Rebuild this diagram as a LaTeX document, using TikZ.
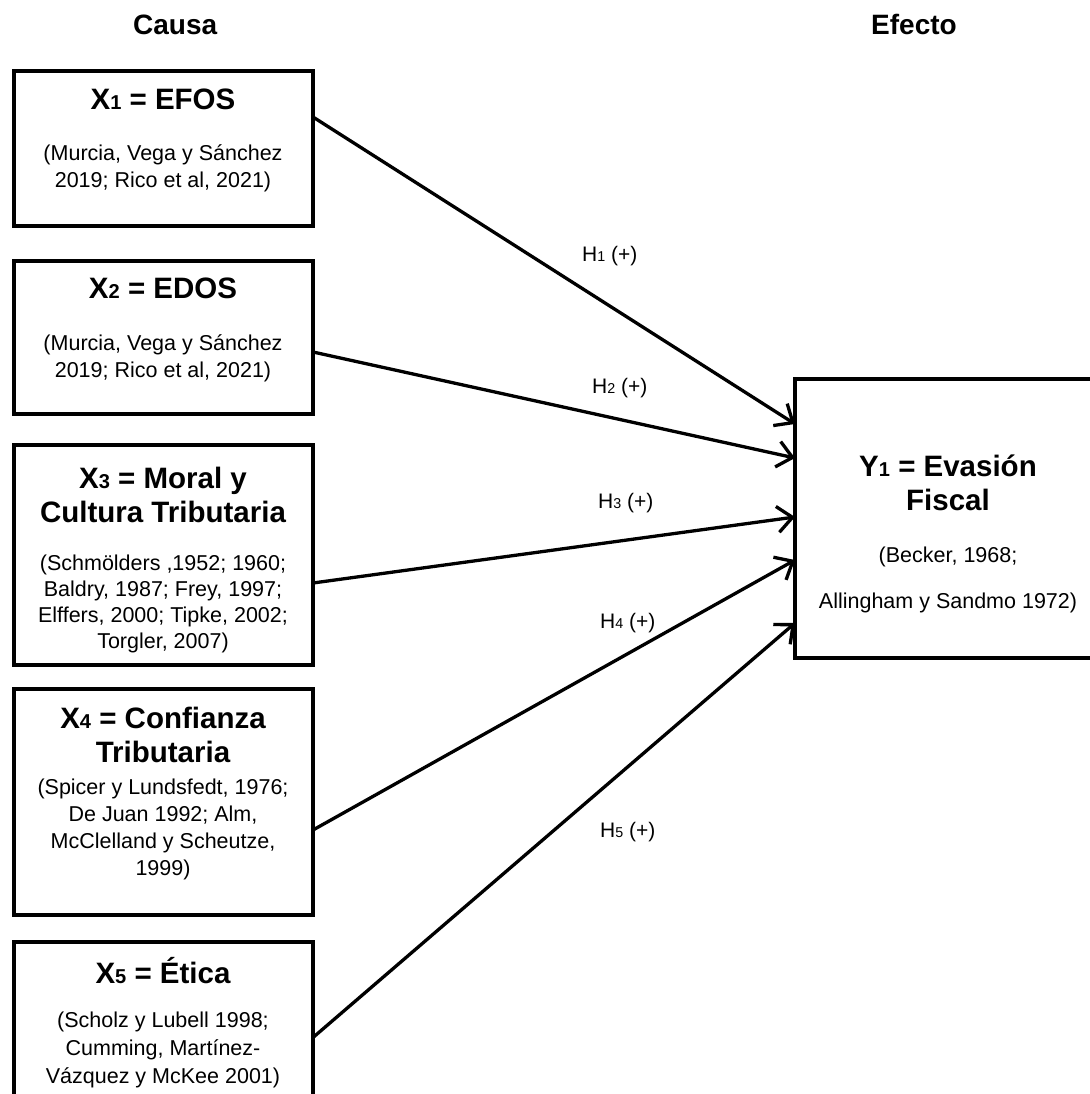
\documentclass[tikz,border=0pt]{standalone}
\usepackage{fontspec}
\setmainfont{Liberation Sans}
\usepackage{graphicx}
\usetikzlibrary{arrows.meta}
\newcommand\sbd[1]{\scalebox{0.68}{#1}}
\tikzset{
  box/.style={draw, line width=4pt, inner sep=0pt, outer sep=0pt},
  ttl/.style={font=\bfseries\fontsize{29.5}{34}\selectfont, align=center, inner sep=0pt, anchor=base},
  cite/.style={font=\fontsize{21.5}{#1}\selectfont, align=center, inner sep=0pt, anchor=base},
  cite/.default=26,
  hdr/.style={font=\bfseries\fontsize{28}{32}\selectfont, inner sep=0pt},
  hyp/.style={font=\fontsize{21}{25}\selectfont, inner sep=0pt, anchor=base west},
  arr/.style={line width=3.3pt, -{Straight Barb[length=15pt,width=26pt]}}
}
\begin{document}
\begin{tikzpicture}[x=1pt,y=-1pt]
\useasboundingbox (0,0) rectangle (1089,1094);
% headers
\node[hdr, anchor=base west] (causa) at (133,35) {Causa};
\node[hdr, anchor=base east] (efecto) at (957,35) {Efecto};
% boxes
\node[box, minimum width=299.5pt, minimum height=154pt] (x1) at (163.25,148.5) {};
\node[box, minimum width=299.5pt, minimum height=153pt] (x2) at (163.25,337.5) {};
\node[box, minimum width=299.5pt, minimum height=220pt] (x3) at (163.25,555) {};
\node[box, minimum width=299.5pt, minimum height=226pt] (x4) at (163.25,802) {};
\node[box, minimum width=299.5pt, minimum height=170pt] (x5) at (163.25,1026.5) {};
\node[box, minimum width=306pt, minimum height=279pt] (y1) at (948,518.5) {};
% texts (anchor base = baseline of the last line)
\node[ttl] (x1t) at (163,110) {X\sbd{1} = EFOS};
\node[cite=28] (x1c) at (163,188) {(Murcia, Vega y Sánchez\\2019; Rico et al, 2021)};
\node[ttl] (x2t) at (163,298) {X\sbd{2} = EDOS};
\node[cite=27] (x2c) at (163,377) {(Murcia, Vega y Sánchez\\2019; Rico et al, 2021)};
\node[ttl] (x3t) at (163,522) {X\sbd{3} = Moral y\\Cultura Tributaria};
\node[cite=26] (x3c) at (163,648) {(Schmölders ,1952; 1960;\\Baldry, 1987; Frey, 1997;\\Elffers, 2000; Tipke, 2002;\\Torgler, 2007)};
\node[ttl] (x4t) at (163,762) {X\sbd{4} = Confianza\\Tributaria};
\node[cite=26.7] (x4c) at (163,875) {(Spicer y Lundsfedt, 1976;\\De Juan 1992; Alm,\\McClelland y Scheutze,\\1999)};
\node[ttl] (x5t) at (163,983) {X\sbd{5} = Ética};
\node[cite=28] (x5c) at (163,1083) {(Scholz y Lubell 1998;\\Cumming, Martínez-\\Vázquez y McKee 2001)};
\node[ttl] (y1t) at (948,510) {Y\sbd{1} = Evasión\\Fiscal};
\node[cite=46] (y1c) at (948,608) {(Becker, 1968;\\Allingham y Sandmo 1972)};
% arrows
\draw[arr] ([yshift=31.5pt]x1.east) -- ([yshift=94.5pt]y1.west);
\draw[arr] ([yshift=-14.5pt]x2.east) -- ([yshift=60.5pt]y1.west);
\draw[arr] ([yshift=-28pt]x3.east) -- ([yshift=1.5pt]y1.west);
\draw[arr] ([yshift=-28pt]x4.east) -- ([yshift=-41.5pt]y1.west);
\draw[arr] ([yshift=-11pt]x5.east) -- ([yshift=-104.5pt]y1.west);
% hypothesis labels
\node[hyp] (h1) at (582,261) {H\sbd{1} (+)};
\node[hyp] (h2) at (592,393) {H\sbd{2} (+)};
\node[hyp] (h3) at (598,508) {H\sbd{3} (+)};
\node[hyp] (h4) at (600,628) {H\sbd{4} (+)};
\node[hyp] (h5) at (600,837) {H\sbd{5} (+)};
\end{tikzpicture}
\end{document}
